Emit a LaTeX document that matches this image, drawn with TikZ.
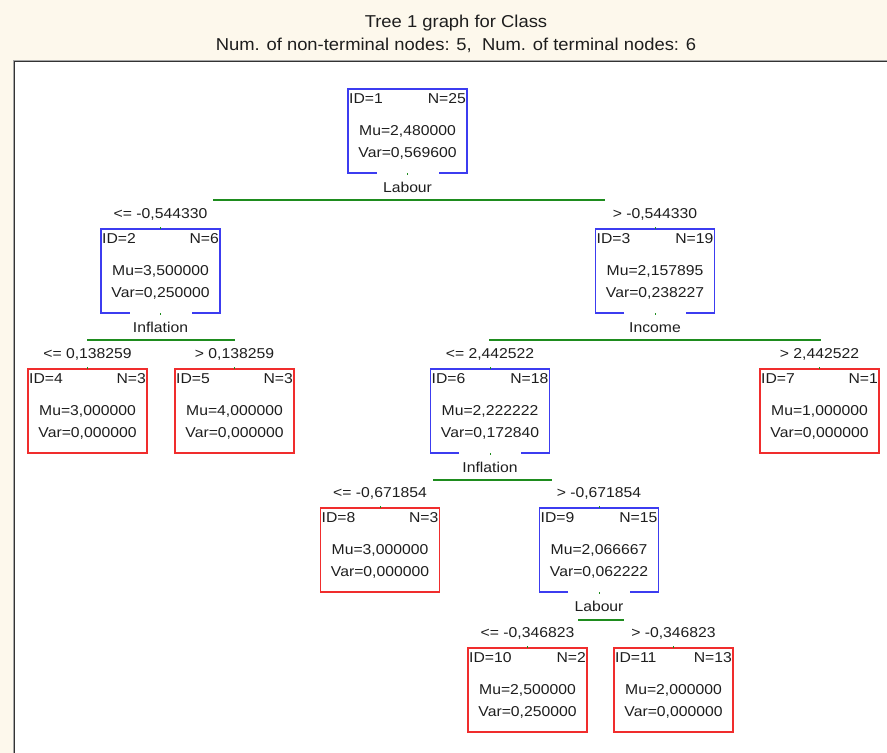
\documentclass[tikz,border=0pt]{standalone}
\usepackage{fontspec}
\usetikzlibrary{calc}
\newfontfamily\boxfont[FakeStretch=1.1]{Liberation Sans}
\newfontfamily\headfont[FakeStretch=1.07]{Liberation Sans}
\definecolor{cream}{RGB}{253,248,236}
\definecolor{nodeblue}{RGB}{60,60,240}
\definecolor{nodered}{RGB}{240,45,45}
\definecolor{bargreen}{RGB}{30,140,30}
\definecolor{ink}{RGB}{30,30,30}
\tikzset{
  boxtext/.style={font=\boxfont\fontsize{14.3}{16}\selectfont, text=ink, inner sep=0pt},
  headtext/.style={font=\headfont\fontsize{17.2}{20}\selectfont, text=ink, inner sep=0pt, anchor=base},
  shell/.style={minimum width=119pt, minimum height=84pt, inner sep=0pt, outer sep=0pt},
  leafbox/.style={shell, draw=nodered, line width=1.6pt},
  splitbox/.style={shell},
  splitborder/.style={draw=nodeblue, line width=1.6pt},
  bar/.style={draw=bargreen, line width=1.4pt},
  tick/.style={draw=bargreen, line width=1pt},
}
% style, name, cx, top, id, n, mu, var
\newcommand\tnode[8]{%
  \node[#1] (#2) at (#3,#4+42) {};
  \node[boxtext, anchor=base west] (#2id) at (#3-58.5,#4+14) {ID=#5};
  \node[boxtext, anchor=base east] (#2n) at (#3+58.5,#4+14) {N=#6};
  \node[boxtext, anchor=base] (#2mu) at (#3,#4+46) {Mu=#7};
  \node[boxtext, anchor=base] (#2var) at (#3,#4+68) {Var=#8};
}
\newcommand\gapborder[1]{%
  \draw[splitborder] ($(#1.south)+(-31,0)$) -| (#1.north west) -| (#1.south east) -- ($(#1.south)+(31,0)$);
}
% parent name, label, x-left, x-right, bar y
\newcommand\splitbar[5]{%
  \node[boxtext, anchor=base] (#1split) at ($(#1.south)+(0,19)$) {#2};
  \coordinate (#1barl) at (#3,#5);
  \coordinate (#1barr) at (#4,#5);
  \draw[bar] (#1barl) -- (#1barr);
  \draw[tick] ($(#1.south)!0!(#1.south)$ |- #1barl) -- ++(0,2);
}
% child name, label
\newcommand\cond[2]{%
  \node[boxtext, anchor=base] (#1cond) at ($(#1.north)+(0,-11)$) {#2};
  \draw[tick] (#1.north) -- ++(0,-2);
}
\begin{document}
\begin{tikzpicture}[x=1pt, y=-1pt]
  \useasboundingbox (0,0) rectangle (887,753);
  \fill[cream] (0,0) rectangle (887,753);
  \fill[white] (14,61) rectangle (887,753);
  \draw[line width=1pt, black!35] (13,753) -- (13,60) -- (887,60);
  \draw[line width=1.3pt, black!80] (14.8,753) -- (14.8,61.8) -- (887,61.8);

  \node[headtext] (title) at (456,27) {Tree 1 graph for Class};
  \node[headtext] (subtitle) at (456,50) {Num. of non-terminal nodes: 5,\ \ Num. of terminal nodes: 6};

  \tnode{splitbox}{n1}{407.5}{89}{1}{25}{2,480000}{0,569600}
  \tnode{splitbox}{n2}{160.5}{229}{2}{6}{3,500000}{0,250000}
  \tnode{splitbox}{n3}{655}{229}{3}{19}{2,157895}{0,238227}
  \tnode{leafbox}{n4}{87.5}{369}{4}{3}{3,000000}{0,000000}
  \tnode{leafbox}{n5}{234.5}{369}{5}{3}{4,000000}{0,000000}
  \tnode{splitbox}{n6}{490}{369}{6}{18}{2,222222}{0,172840}
  \tnode{leafbox}{n7}{819.5}{369}{7}{1}{1,000000}{0,000000}
  \tnode{leafbox}{n8}{380}{508}{8}{3}{3,000000}{0,000000}
  \tnode{splitbox}{n9}{599}{508}{9}{15}{2,066667}{0,062222}
  \tnode{leafbox}{n10}{527.5}{648}{10}{2}{2,500000}{0,250000}
  \tnode{leafbox}{n11}{673.5}{648}{11}{13}{2,000000}{0,000000}

  \gapborder{n1}
  \gapborder{n2}
  \gapborder{n3}
  \gapborder{n6}
  \gapborder{n9}

  \splitbar{n1}{Labour}{213}{605}{200}
  \splitbar{n2}{Inflation}{87}{235}{340}
  \splitbar{n3}{Income}{489}{821}{340}
  \splitbar{n6}{Inflation}{433}{552}{480}
  \splitbar{n9}{Labour}{578}{624}{620}

  \cond{n2}{<= -0,544330}
  \cond{n3}{> -0,544330}
  \cond{n4}{<= 0,138259}
  \cond{n5}{> 0,138259}
  \cond{n6}{<= 2,442522}
  \cond{n7}{> 2,442522}
  \cond{n8}{<= -0,671854}
  \cond{n9}{> -0,671854}
  \cond{n10}{<= -0,346823}
  \cond{n11}{> -0,346823}
\end{tikzpicture}
\end{document}
